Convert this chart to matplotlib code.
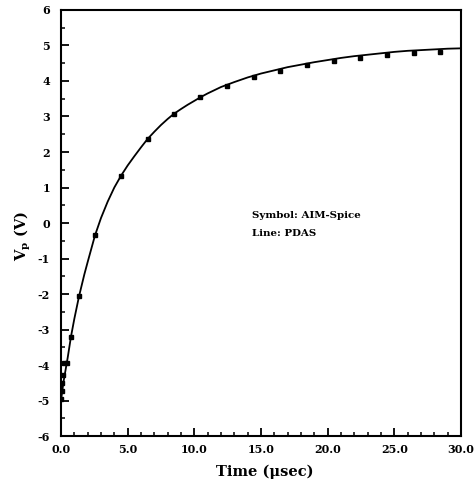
import numpy as np
import matplotlib.pyplot as plt
from matplotlib.ticker import MultipleLocator

# AIM-Spice samples (symbols)
t_sym = [0.0, 0.05, 0.1, 0.15, 0.25, 0.45, 0.75, 1.35, 2.55, 4.5, 6.5, 8.45,
         10.45, 12.45, 14.45, 16.45, 18.45, 20.45, 22.45, 24.45, 26.45, 28.45]
v_sym = [-4.97, -4.74, -4.5, -4.28, -3.95, -3.93, -3.2, -2.07, -0.35, 1.33,
         2.37, 3.07, 3.54, 3.86, 4.11, 4.29, 4.44, 4.56, 4.66, 4.73, 4.78, 4.83]

# PDAS result (line)
t_line = [0.0, 0.1, 0.2, 0.5, 0.75, 1.0, 1.35, 1.75, 2.0, 2.55, 3.0, 3.5, 4.0,
          4.5, 5.0, 5.5, 6.0, 6.5, 7.0, 7.5, 8.0, 8.45, 9.0, 9.5, 10.0, 10.45,
          11.0, 12.0, 13.0, 14.0, 15.0, 16.0, 17.0, 18.0, 19.0, 20.0, 21.0,
          22.0, 23.0, 24.0, 25.0, 26.0, 27.0, 28.0, 29.0, 30.0]
v_line = [-5.0, -4.72, -4.45, -3.8, -3.2, -2.7, -2.07, -1.45, -1.1, -0.35,
          0.14, 0.6, 1.0, 1.33, 1.62, 1.88, 2.13, 2.37, 2.57, 2.76, 2.93, 3.07,
          3.21, 3.33, 3.44, 3.54, 3.65, 3.83, 3.97, 4.1, 4.21, 4.3, 4.39, 4.46,
          4.53, 4.59, 4.65, 4.7, 4.74, 4.78, 4.82, 4.85, 4.87, 4.89, 4.91, 4.92]

xticks = np.arange(0, 31, 5)
xticklabels = ['0.0', '5.0', '10.0', '15.0', '20.0', '25.0', '30.0']
yticks = np.arange(-6, 7, 1)

plt.rcParams['font.family'] = ['DejaVu Serif']
plt.rcParams['font.weight'] = 'bold'
plt.rcParams['mathtext.fontset'] = 'dejavuserif'
plt.rcParams['axes.unicode_minus'] = False

fig = plt.figure(figsize=(4.75, 4.83), dpi=100)
ax = fig.add_axes([0.1284, 0.0973, 0.842, 0.882])

ax.plot(t_line, v_line, 'k-', lw=1.3)
ax.plot(t_sym, v_sym, 'ks', ms=3.0, mec='k')

ax.set_xlim(0, 30)
ax.set_ylim(-6, 6)
ax.set_xticks(xticks)
ax.set_xticklabels(xticklabels)
ax.set_yticks(yticks)
ax.xaxis.set_minor_locator(MultipleLocator(1))
ax.yaxis.set_minor_locator(MultipleLocator(0.5))
ax.tick_params(which='major', direction='in', length=6, width=1.3,
               labelsize=8, top=False, right=False)
ax.tick_params(which='minor', direction='in', length=3, width=1.1,
               top=False, right=False)
ax.tick_params(axis='x', pad=6)
ax.tick_params(axis='y', pad=8)
for lab in ax.get_xticklabels() + ax.get_yticklabels():
    lab.set_fontweight('bold')
for sp in ax.spines.values():
    sp.set_linewidth(1.5)

ax.set_xlabel('Time (\u03bcsec)', fontsize=10.5, fontweight='bold')
ax.xaxis.set_label_coords(0.51, -0.066)
ax.set_ylabel('V$_\\mathbf{p}$ (V)', fontsize=10.5, fontweight='bold')
ax.yaxis.set_label_coords(-0.07, 0.47)

ax.text(0.4775, 0.5117, 'Symbol: AIM-Spice', transform=ax.transAxes,
        fontsize=7.4, fontweight='bold', va='baseline')
ax.text(0.4775, 0.4695, 'Line: PDAS', transform=ax.transAxes,
        fontsize=7.4, fontweight='bold', va='baseline')

fig.savefig('out.png', dpi=100)
